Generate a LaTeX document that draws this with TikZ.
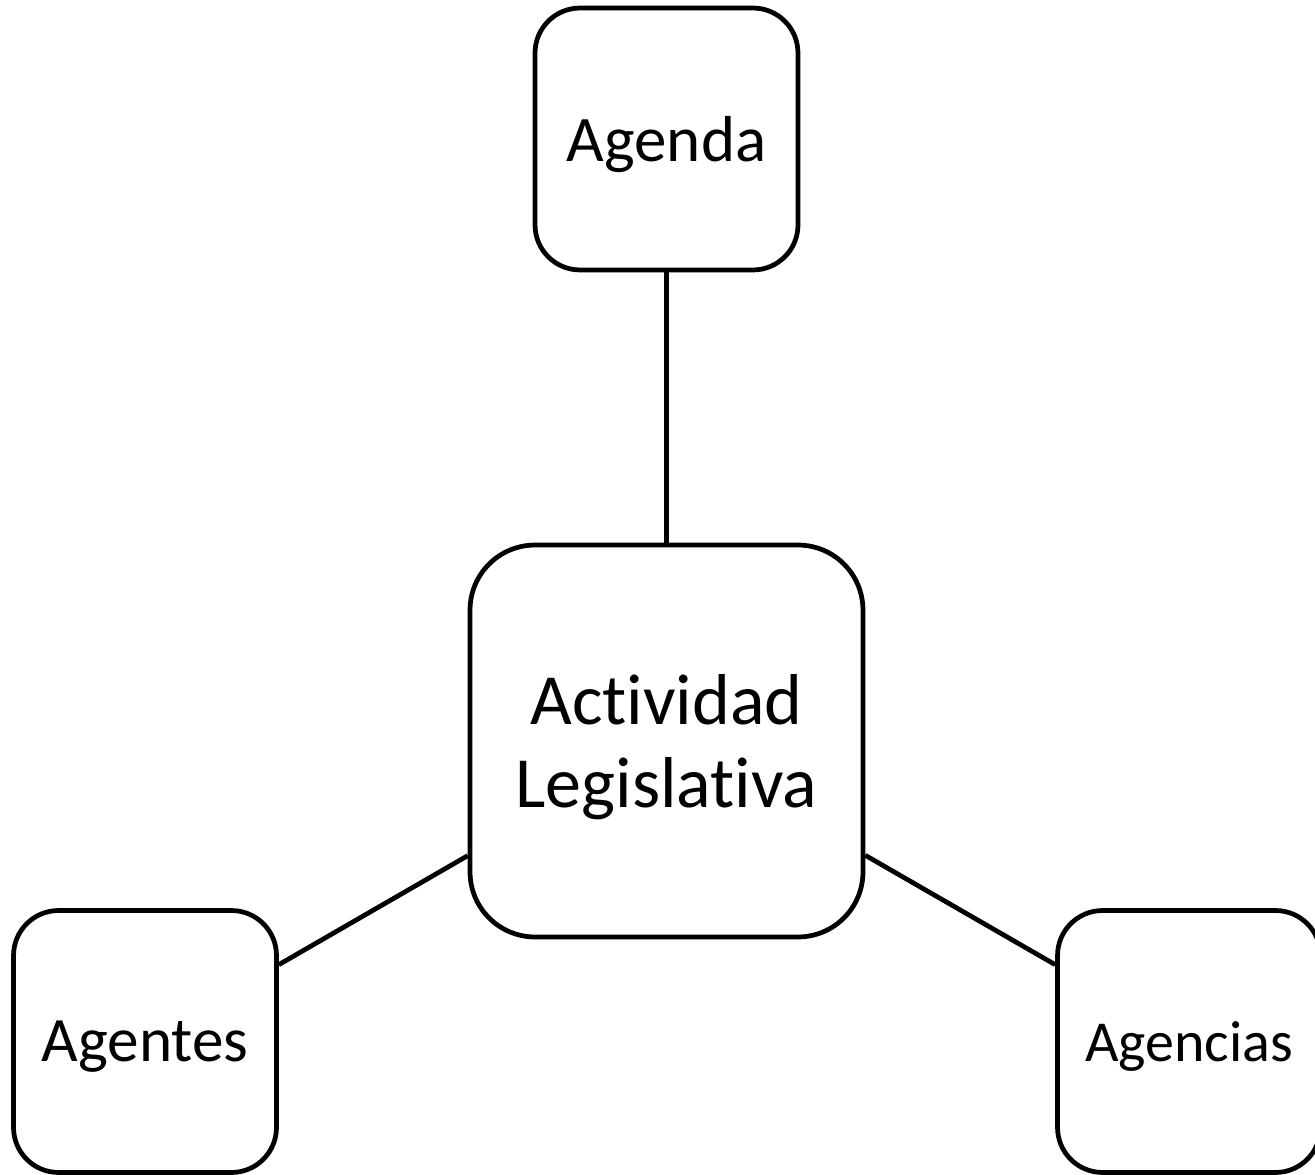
\documentclass[tikz,border=0pt]{standalone}
\usepackage{fontspec}
\setmainfont[Ligatures=NoCommon]{Carlito}
\begin{document}
\begin{tikzpicture}[x=0.02cm,y=-0.02cm,
	box/.style={draw,line width=0.095cm,rounded corners=0.9cm,minimum width=5.26cm,minimum height=5.24cm,inner sep=0pt,text depth=0pt,align=center},
	bigbox/.style={box,rounded corners=1.3cm,minimum width=7.86cm,minimum height=7.84cm},
	link/.style={line width=0.095cm}]
		\useasboundingbox (0,0) rectangle (1315,1175);
		\node[bigbox,font=\fontsize{41pt}{46.7pt}\selectfont] (activ) at (666.5,741) {Actividad\\Legislativa};
		\node[box,font=\fontsize{37pt}{44pt}\selectfont] (agenda) at (666.5,139) {Agenda};
		\node[box,font=\fontsize{36pt}{43pt}\selectfont] (agentes) at (145,1041.5) {Agentes};
		\node[box,font=\fontsize{33pt}{40pt}\selectfont] (agencias) at (1189,1041.5) {Agencias};
		\draw[link] (agenda) to (activ);
		\draw[link] (activ) to (agentes);
		\draw[link] (activ) to (agencias);
	\end{tikzpicture}
\end{document}
